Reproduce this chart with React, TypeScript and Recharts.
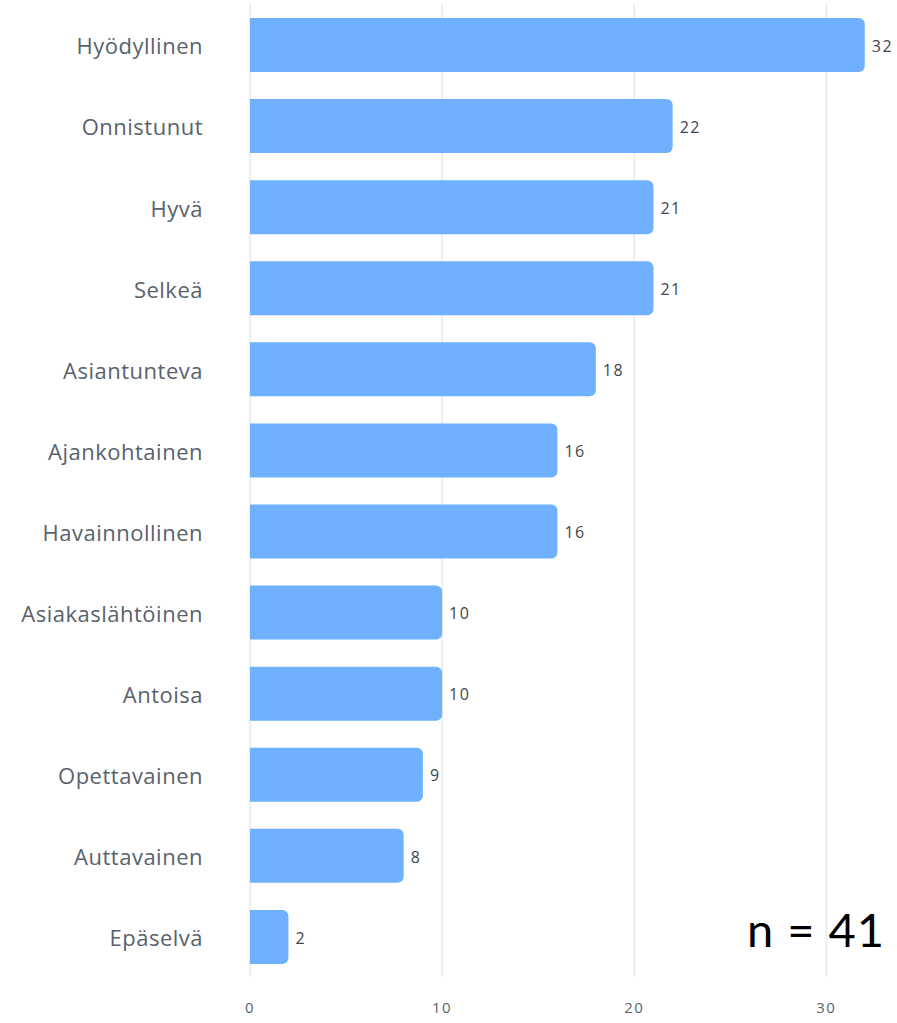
import React from 'react';
import { BarChart, Bar, XAxis, YAxis, CartesianGrid, LabelList } from 'recharts';

const categories = [
  'Hyödyllinen',
  'Onnistunut',
  'Hyvä',
  'Selkeä',
  'Asiantunteva',
  'Ajankohtainen',
  'Havainnollinen',
  'Asiakaslähtöinen',
  'Antoisa',
  'Opettavainen',
  'Auttavainen',
  'Epäselvä',
];
const counts = [32, 22, 21, 21, 18, 16, 16, 10, 10, 9, 8, 2];
const xTicks = [0, 10, 20, 30];
const sampleSize = 41;

const data = categories.map((name, i) => ({ name, value: counts[i] }));

const FONT = '"Open Sans", "Noto Sans", sans-serif';

export default function App() {
  return (
    <div style={{ position: 'absolute', left: 0, top: 0, width: 897, height: 1023, background: '#fff' }}>
      <BarChart
        width={897}
        height={1023}
        data={data}
        layout="vertical"
        margin={{ top: 4, right: 13, left: 0, bottom: 1 }}
        barSize={54}
      >
        <CartesianGrid horizontal={false} verticalValues={xTicks} stroke="#e6e9ec" strokeWidth={1.5} />
        <XAxis
          type="number"
          domain={[0, 33]}
          ticks={xTicks}
          allowDataOverflow
          axisLine={false}
          tickLine={false}
          tickSize={0}
          tickMargin={25}
          height={45}
          tick={{ fontSize: 15, fill: '#5a6470', fontFamily: FONT, letterSpacing: 1.5 }}
        />
        <YAxis
          type="category"
          dataKey="name"
          width={250}
          axisLine={false}
          tickLine={false}
          tickSize={0}
          tickMargin={47}
          tick={{ fontSize: 22, fill: '#59626c', fontFamily: FONT, letterSpacing: 0.5, dy: 2 }}
        />
        <Bar dataKey="value" fill="#6fb1ff" radius={[0, 6, 6, 0]} isAnimationActive={false}>
          <LabelList
            dataKey="value"
            position="right"
            offset={7}
            dy={1}
            style={{ fontSize: 16, fill: '#3f454c', fontFamily: FONT, letterSpacing: 1.5 }}
          />
        </Bar>
      </BarChart>
      <div
        style={{
          position: 'absolute',
          left: 747,
          top: 899,
          fontFamily: '"Lato", "Open Sans", sans-serif',
          fontSize: 47,
          letterSpacing: 1,
          color: '#000',
          lineHeight: '60px',
        }}
      >
        n = {sampleSize}
      </div>
    </div>
  );
}
